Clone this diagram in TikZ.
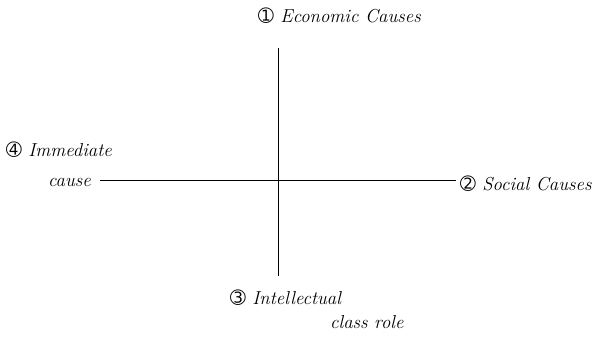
\documentclass[tikz,border=0pt]{standalone}
\usepackage{fontspec}
\newfontfamily\numfont{DejaVu Sans}
\usetikzlibrary{positioning}

\begin{document}
\begin{tikzpicture}[x=0.03cm,y=-0.03cm]
                \useasboundingbox (0,0) rectangle (596,342);
                % axes
                \coordinate (top) at (278,48);
                \coordinate (bot) at (278,276);
                \coordinate (lft) at (100,180);
                \coordinate (rgt) at (456,180);
                \draw[line width=0.8pt] (top) -- (bot);
                \draw[line width=0.8pt] (lft) -- (rgt);
                % labels
                \node[anchor=west, font=\itshape\fontsize{16}{19}\selectfont] (econ) at (254,16) {{\numfont\upshape ➀} Economic Causes};
                \node[anchor=west, font=\itshape\fontsize{16}{19}\selectfont] (soc) at (456,184) {{\numfont\upshape ➁} Social Causes};
                \node[anchor=west, font=\itshape\fontsize{16}{19}\selectfont] (imm) at (2,150) {{\numfont\upshape ➃} Immediate};
                \node[anchor=west, font=\itshape\fontsize{16}{19}\selectfont] (cau) at (44,182) {cause};
                \node[anchor=west, font=\itshape\fontsize{16}{19}\selectfont] (int) at (226,298) {{\numfont\upshape ➂} Intellectual};
                \node[anchor=west, font=\itshape\fontsize{16}{19}\selectfont] (cls) at (326,322) {class role};
            \end{tikzpicture}
\end{document}
